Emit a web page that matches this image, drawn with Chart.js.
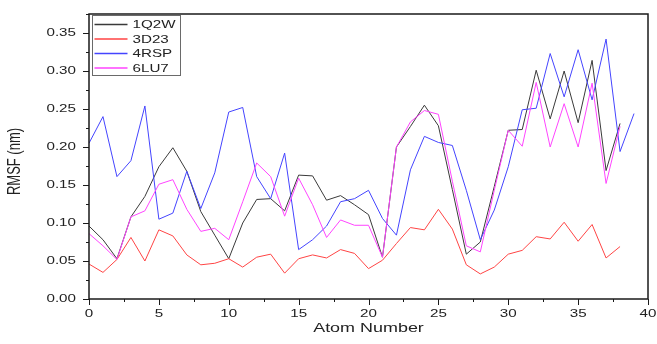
<!DOCTYPE html>
<html>
<head>
<meta charset="utf-8">
<script src="https://cdn.jsdelivr.net/npm/chart.js@4.4.1/dist/chart.umd.min.js"></script>
<style>
  html, body { margin: 0; padding: 0; background: #fff; }
  #wrap { width: 657px; height: 344px; position: relative; }
</style>
</head>
<body>
<div id="wrap"><canvas id="rmsfChart"></canvas></div>
<script>
// atom index along the x axis
const atomNumbers = [0, 1, 2, 3, 4, 5, 6, 7, 8, 9, 10, 11, 12, 13, 14, 15, 16, 17, 18, 19,
  20, 21, 22, 23, 24, 25, 26, 27, 28, 29, 30, 31, 32, 33, 34, 35, 36, 37, 38, 39];

// RMSF values (nm)
const rmsf1Q2W = [0.096, 0.078, 0.053, 0.108, 0.135, 0.174, 0.199, 0.168, 0.115, 0.084,
  0.053, 0.100, 0.131, 0.132, 0.116, 0.163, 0.162, 0.130, 0.136, 0.124,
  0.111, 0.055, 0.200, 0.227, 0.255, 0.228, 0.144, 0.059, 0.075, 0.148,
  0.222, 0.223, 0.301, 0.237, 0.300, 0.232, 0.314, 0.169, 0.231];
const rmsf3D23 = [0.046, 0.035, 0.052, 0.081, 0.050, 0.091, 0.083, 0.058, 0.045, 0.047,
  0.053, 0.042, 0.055, 0.059, 0.034, 0.053, 0.058, 0.054, 0.065, 0.060,
  0.040, 0.051, 0.073, 0.094, 0.091, 0.118, 0.092, 0.045, 0.033, 0.042,
  0.059, 0.064, 0.082, 0.079, 0.101, 0.076, 0.098, 0.054, 0.069];
const rmsf4RSP = [0.205, 0.240, 0.161, 0.182, 0.254, 0.105, 0.113, 0.168, 0.119, 0.166,
  0.246, 0.252, 0.161, 0.132, 0.192, 0.065, 0.078, 0.096, 0.128, 0.132,
  0.143, 0.106, 0.084, 0.170, 0.214, 0.206, 0.202, 0.143, 0.078, 0.117,
  0.174, 0.249, 0.251, 0.323, 0.266, 0.328, 0.262, 0.342, 0.194, 0.244];
const rmsf6LU7 = [0.086, 0.070, 0.052, 0.108, 0.116, 0.151, 0.157, 0.118, 0.089, 0.093,
  0.078, 0.128, 0.179, 0.161, 0.109, 0.159, 0.124, 0.081, 0.104, 0.097,
  0.097, 0.055, 0.200, 0.233, 0.248, 0.243, 0.155, 0.070, 0.062, 0.143,
  0.222, 0.201, 0.285, 0.200, 0.257, 0.200, 0.284, 0.152, 0.227];

const seriesNames = ["1Q2W", "3D23", "4RSP", "6LU7"];
const seriesColors = ["#3a3a3a", "#ff4444", "#4444ff", "#ff44ff"];

const xTickValues = [0, 5, 10, 15, 20, 25, 30, 35, 40];
const yTickValues = [0, 0.05, 0.1, 0.15, 0.2, 0.25, 0.3, 0.35];
const xTitle = "Atom Number";
const yTitle = "RMSF (nm)";

const FONT = "'Liberation Sans', Arial, sans-serif";
const AXIS_COLOR = "#1a1a1a";
const TEXT_COLOR = "#222";
const STRETCH = 1.38; // the source figure is stretched sideways, text included

// text with the sideways stretch of the original picture
function stretchedText(ctx, text, x, y, size, align, rotated) {
  ctx.save();
  ctx.translate(x, y);
  if (rotated) { ctx.rotate(-Math.PI / 2); ctx.scale(1, STRETCH); }
  else ctx.scale(STRETCH, 1);
  ctx.font = size + "px " + FONT;
  ctx.textAlign = align;
  ctx.textBaseline = "middle";
  ctx.fillStyle = TEXT_COLOR;
  ctx.fillText(text, 0, 0);
  ctx.restore();
}

// frame, outward major/minor ticks, labels and the boxed legend, like the Origin plot
const originStyle = {
  id: "originStyle",
  afterDraw(chart) {
    const { ctx, chartArea: a, scales } = chart;
    const xs = scales.x, ys = scales.y;
    ctx.save();
    ctx.strokeStyle = AXIS_COLOR;
    ctx.lineWidth = 1.5;
    ctx.strokeRect(a.left, a.top, a.right - a.left, a.bottom - a.top);

    ctx.lineWidth = 1;
    ctx.beginPath();
    xTickValues.forEach((v, i) => {
      const px = Math.round(xs.getPixelForValue(v)) + 0.5;
      ctx.moveTo(px, a.bottom); ctx.lineTo(px, a.bottom + 6);
      if (i < xTickValues.length - 1) {
        const mx = Math.round(xs.getPixelForValue((v + xTickValues[i + 1]) / 2)) + 0.5;
        ctx.moveTo(mx, a.bottom); ctx.lineTo(mx, a.bottom + 3);
      }
    });
    yTickValues.forEach((v, i) => {
      const py = Math.round(ys.getPixelForValue(v)) + 0.5;
      ctx.moveTo(a.left, py); ctx.lineTo(a.left - 6, py);
      const next = i < yTickValues.length - 1 ? yTickValues[i + 1] : v + 0.05;
      const my = Math.round(ys.getPixelForValue((v + next) / 2)) + 0.5;
      if (my > a.top) { ctx.moveTo(a.left, my); ctx.lineTo(a.left - 3, my); }
    });
    ctx.stroke();
    ctx.restore();

    xTickValues.forEach((v) => stretchedText(ctx, String(v), xs.getPixelForValue(v), a.bottom + 15, 11, "center"));
    yTickValues.forEach((v) => stretchedText(ctx, v.toFixed(2), a.left - 13, ys.getPixelForValue(v), 11, "right"));
    stretchedText(ctx, xTitle, (a.left + a.right) / 2, a.bottom + 29, 13, "center");
    stretchedText(ctx, yTitle, 15, (a.top + a.bottom) / 2 + 5, 13, "center", true);

    // legend
    const bx = a.left + 3.5, by = a.top + 1.5, bw = 88, bh = 60;
    ctx.save();
    ctx.fillStyle = "#fff";
    ctx.fillRect(bx, by, bw, bh);
    ctx.strokeStyle = "#6a6a6a";
    ctx.lineWidth = 1;
    ctx.strokeRect(bx, by, bw, bh);
    ctx.restore();
    seriesNames.forEach((name, i) => {
      const ry = by + 9 + i * 14.5;
      ctx.save();
      ctx.fillStyle = seriesColors[i];
      ctx.fillRect(bx + 2, ry - 0.75, 33, 1.5);
      ctx.restore();
      stretchedText(ctx, name, bx + 40, ry + 0.5, 11, "left");
    });
  }
};

const seriesData = [rmsf1Q2W, rmsf3D23, rmsf4RSP, rmsf6LU7];

new Chart(document.getElementById("rmsfChart"), {
  type: "line",
  data: {
    labels: atomNumbers,
    datasets: seriesNames.map((name, i) => ({
      label: name,
      data: seriesData[i],
      borderColor: seriesColors[i],
      borderWidth: 1,
      pointRadius: 0,
      tension: 0,
      fill: false,
      order: seriesNames.length - i
    }))
  },
  options: {
    responsive: true,
    maintainAspectRatio: false,
    animation: false,
    layout: { padding: { left: 0, top: 14, right: 9, bottom: 0 } },
    plugins: { legend: { display: false }, tooltip: { enabled: false } },
    scales: {
      x: {
        type: "linear",
        min: 0,
        max: 40,
        afterBuildTicks: (s) => { s.ticks = xTickValues.map((v) => ({ value: v })); },
        afterFit: (s) => { s.height = 45; },
        grid: { display: false },
        border: { display: false },
        ticks: { display: false }
      },
      y: {
        min: 0,
        max: 0.375,
        afterBuildTicks: (s) => { s.ticks = yTickValues.map((v) => ({ value: v })); },
        afterFit: (s) => { s.width = 89; },
        grid: { display: false },
        border: { display: false },
        ticks: { display: false }
      }
    }
  },
  plugins: [originStyle]
});
</script>
</body>
</html>
